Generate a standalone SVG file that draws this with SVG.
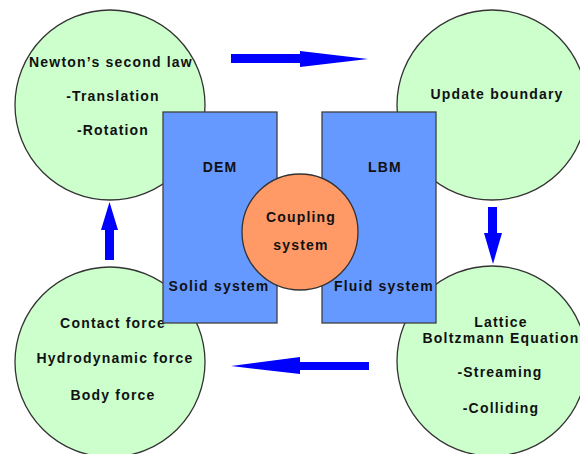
<svg xmlns="http://www.w3.org/2000/svg" width="580" height="454" viewBox="0 0 580 454">
<style>
.c{fill:#ccffcc;stroke:#333;stroke-width:1.3}
.r{fill:#6699ff;stroke:#404040;stroke-width:1.3}
.o{fill:#ff9966;stroke:#333;stroke-width:1.3}
.a{fill:#0000ff}
text{font-family:"Liberation Sans",Arial,sans-serif;font-weight:bold;font-size:14px;letter-spacing:1.2px;fill:#111;text-anchor:middle}
</style>
<rect width="580" height="454" fill="#fff"/>
<g id="newton">
<circle class="c" cx="110" cy="105" r="95"/>
<text x="111" y="67">Newton’s second law</text>
<text x="113" y="101">-Translation</text>
<text x="113" y="135">-Rotation</text>
</g>
<g id="update">
<circle class="c" cx="492" cy="105" r="95"/>
<text x="497" y="99">Update boundary</text>
</g>
<g id="forces">
<circle class="c" cx="110" cy="362" r="95"/>
<text x="113" y="328">Contact force</text>
<text x="115" y="363">Hydrodynamic force</text>
<text x="113" y="400">Body force</text>
</g>
<g id="lbe">
<circle class="c" cx="492" cy="361" r="95"/>
<text x="501" y="327">Lattice</text>
<text x="501" y="343">Boltzmann Equation</text>
<text x="500" y="377">-Streaming</text>
<text x="501" y="413">-Colliding</text>
</g>
<g id="dem">
<rect class="r" x="163" y="112" width="114" height="211"/>
<text x="220" y="172">DEM</text>
<text x="219" y="291">Solid system</text>
</g>
<g id="lbm">
<rect class="r" x="322" y="112" width="114" height="211"/>
<text x="385" y="172">LBM</text>
<text x="384" y="291">Fluid system</text>
</g>
<g id="coupling">
<circle class="o" cx="300" cy="232" r="58"/>
<text x="301" y="222">Coupling</text>
<text x="301" y="250">system</text>
</g>
<g id="connectors">
<polygon class="a" points="231,54 300,54 300,51 368,59 300,67 300,63 231,63"/>
<polygon class="a" points="488,207 497,207 497,233 502,233 493,264 484,233 488,233"/>
<polygon class="a" points="369,362 300,362 300,357 231,366 300,374 300,370 369,370"/>
<polygon class="a" points="105,260 114,260 114,230 118,230 109.5,202 101,230 105,230"/>
</g>
</svg>
